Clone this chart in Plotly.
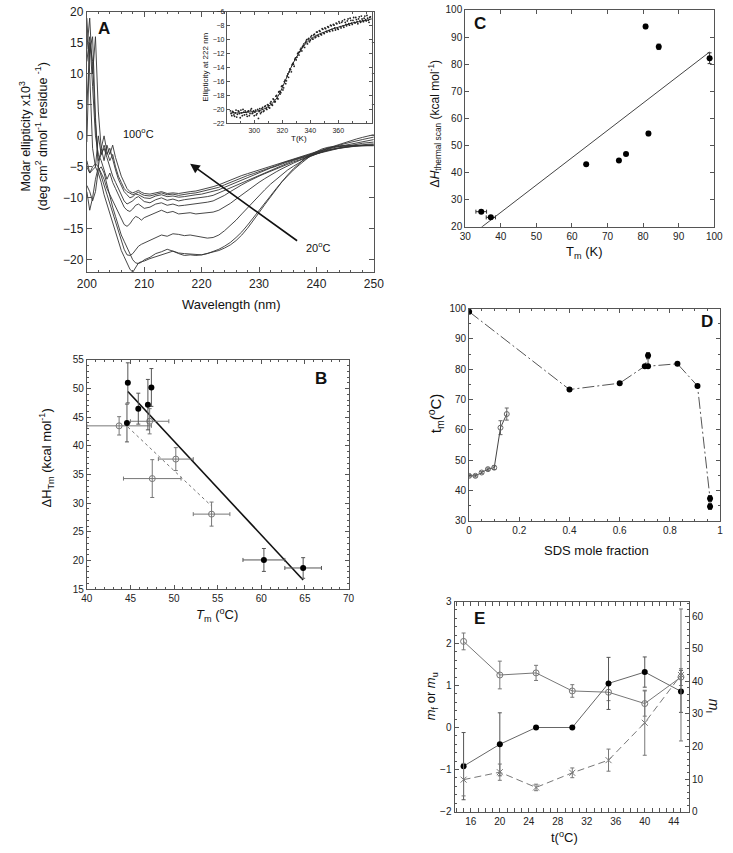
import plotly.graph_objects as go

W, H = 733, 853
FONT = "Liberation Sans, Arial, sans-serif"

# ---------------- Panel A data ----------------
WAVELENGTH = [200, 200.5, 201, 201.5, 202, 202.5, 203, 203.5, 204, 204.5, 205, 205.5, 206, 206.5,
              207, 207.5, 208, 208.5, 209, 209.5, 210,
              211, 212, 213, 214, 215, 216, 217, 218, 219, 220, 221, 222, 223, 224, 225, 226, 227,
              228, 229, 230, 231, 232, 233, 234, 235, 236, 237, 238, 239, 240, 241, 242, 243, 244,
              245, 246, 247, 248, 249, 250]
CD_20C = [-5, -6, -5.5, -5, -6, -7.5, -9.5, -11, -12.5, -14, -15.5, -17, -18.5, -19.5,
          -20.5, -21.5, -22, -21.2, -20.5, -20.3, -20.2,
          -19.8, -19.5, -19.2, -19.0, -18.6, -19.0, -19.3, -19.2, -19.3, -19.2, -19.0, -18.8, -18.5, -18.1,
          -17.6, -16.9, -16.0, -14.9, -13.7, -12.4, -11.1, -9.8, -8.6, -7.4, -6.3, -5.3, -4.5, -3.6, -3.0,
          -2.5, -2.1, -1.85, -1.7, -1.6, -1.55, -1.5, -1.5, -1.5, -1.5, -1.5]
CD_30C = [-8, -9, -10.5, -9, -5.5, -5, -6, -8, -10, -11.5, -13, -14.5, -16, -17,
          -18, -19, -20, -20.5, -20.6, -20.4, -20.0,
          -19.6, -19.0, -18.7, -18.3, -18.6, -18.9, -19.0, -19.1, -19.2, -19.2, -19.0, -18.7, -18.3, -17.8,
          -17.2, -16.4, -15.5, -14.4, -13.2, -12.0, -10.8, -9.6, -8.5, -7.4, -6.4, -5.5, -4.7, -3.9, -3.2,
          -2.7, -2.3, -2.0, -1.8, -1.7, -1.65, -1.6, -1.6, -1.6, -1.6, -1.6]
CD_40C = [-4, -6, -5, -4.5, -5, -6.5, -8, -9.5, -11, -12.5, -14, -15.5, -17, -18.3,
          -19.2, -19.3, -19, -18.3, -17.8, -17.5, -17.3,
          -16.8, -16.5, -16.0, -16.2, -15.8, -15.9, -16.1, -16.0, -16.2, -16.4, -16.5, -16.4, -16.0, -15.3,
          -14.5, -13.6, -12.6, -11.6, -10.6, -9.6, -8.7, -7.8, -7.0, -6.2, -5.5, -4.9, -4.3, -3.8, -3.3,
          -2.9, -2.6, -2.3, -2.1, -1.9, -1.8, -1.7, -1.65, -1.6, -1.55, -1.5]
CD_50C = [-9, -12, -10, -7, -5, -6, -7, -8.5, -9.5, -10.5, -11.5, -12.5, -13.5, -14.3,
          -14.6, -14.2, -13.5, -13.0, -13.2, -13.6, -13.2,
          -12.8, -12.5, -12.0, -12.4, -12.2, -12.6, -12.5, -12.4, -12.6, -12.5, -12.4, -12.3, -12.0, -11.5,
          -10.9, -10.2, -9.5, -8.8, -8.1, -7.5, -6.9, -6.3, -5.8, -5.3, -4.8, -4.4, -4.0, -3.6, -3.2,
          -2.9, -2.6, -2.35, -2.15, -2.0, -1.85, -1.75, -1.65, -1.55, -1.5, -1.45]
CD_60C = [12, 16, 8, 0, -3, -4, -5.5, -7, -6, -7.5, -8.5, -9.5, -10.5, -11.5,
          -12, -12.2, -11.8, -11.2, -11.0, -11.4, -11.7,
          -11.5, -11.0, -10.8, -11.2, -11.0, -11.3, -11.2, -11.1, -11.0, -10.9, -10.7, -10.5, -10.1, -9.6,
          -9.0, -8.4, -7.9, -7.4, -6.9, -6.5, -6.1, -5.7, -5.3, -4.9, -4.6, -4.2, -3.9, -3.5, -3.2,
          -2.9, -2.65, -2.4, -2.2, -2.0, -1.85, -1.7, -1.55, -1.45, -1.35, -1.3]
CD_70C = [-1, 15, 12, 2, -4, -3, -2, -3.5, -5, -6.5, -7.5, -8.5, -9.5, -10.5,
          -11, -10.8, -10.5, -10.0, -9.8, -10.2, -10.6,
          -10.8, -10.3, -10.0, -10.4, -10.2, -10.5, -10.3, -10.2, -10.1, -10.0, -9.8, -9.6, -9.2, -8.8,
          -8.4, -7.9, -7.5, -7.1, -6.7, -6.3, -5.9, -5.5, -5.1, -4.7, -4.4, -4.0, -3.7, -3.4, -3.1,
          -2.8, -2.55, -2.3, -2.1, -1.9, -1.7, -1.5, -1.35, -1.2, -1.1, -1.0]
CD_80C = [19, 10, -2, -5, 0, -3, -1.5, -3, -2, -4, -5.5, -7, -8, -9,
          -9.5, -10, -9.8, -9.4, -9.5, -9.8, -10.0,
          -10.1, -9.7, -9.5, -9.8, -9.7, -9.9, -9.8, -9.6, -9.5, -9.4, -9.2, -9.0, -8.7, -8.3,
          -7.9, -7.5, -7.1, -6.7, -6.4, -6.0, -5.6, -5.2, -4.9, -4.5, -4.2, -3.9, -3.6, -3.3, -3.0,
          -2.7, -2.4, -2.15, -1.9, -1.7, -1.5, -1.3, -1.1, -0.9, -0.75, -0.6]
CD_90C = [5, 14, 16, 3, -5, -2, 0, -2.5, -4, -3, -5, -6.5, -7.5, -8.5,
          -9, -9.3, -9.5, -9.3, -9.1, -9.4, -9.6,
          -9.7, -9.4, -9.2, -9.5, -9.4, -9.6, -9.4, -9.3, -9.2, -9.0, -8.8, -8.6, -8.3, -7.9,
          -7.5, -7.1, -6.8, -6.4, -6.1, -5.8, -5.4, -5.1, -4.8, -4.4, -4.1, -3.8, -3.5, -3.2, -2.9,
          -2.6, -2.3, -2.0, -1.75, -1.5, -1.25, -1.0, -0.8, -0.6, -0.4, -0.2]
CD_100C = [14, 19, 10, 16, 4, -2, -4, -1.5, -3, -1.5, -3.5, -5, -6.5, -7.5,
           -8.5, -9, -9.2, -9.0, -8.8, -9.1, -9.3,
           -9.4, -9.2, -9.0, -9.3, -9.2, -9.3, -9.1, -9.0, -8.9, -8.7, -8.5, -8.2, -7.9, -7.5,
           -7.1, -6.7, -6.4, -6.1, -5.8, -5.5, -5.2, -4.9, -4.6, -4.3, -4.0, -3.7, -3.4, -3.1, -2.8,
           -2.5, -2.2, -1.9, -1.6, -1.3, -1.0, -0.75, -0.5, -0.25, 0.0, 0.2]
CD_SPECTRA = [CD_20C, CD_30C, CD_40C, CD_50C, CD_60C, CD_70C, CD_80C, CD_90C, CD_100C]

# inset: ellipticity at 222 nm vs T(K)
INSET_T_A = list(range(283, 384))
INSET_E_A = [-20.2, -20.9, -20.4, -21.0, -20.1, -20.7, -20.3, -21.2, -20.5, -20.0, -20.8, -20.4, -21.0,
             -20.2, -20.6, -19.9, -20.5, -20.9, -20.1, -20.6, -21.3, -19.9, -20.4, -19.7, -20.2, -19.5,
             -20.0, -19.4, -19.8, -18.9, -19.4, -18.6, -18.9, -18.0, -18.5, -17.4, -17.6, -16.6, -16.9,
             -15.8, -15.9, -14.9, -14.6, -14.3, -13.6, -13.5, -12.8, -12.9, -12.0, -12.2, -11.4, -11.6,
             -10.8, -11.1, -10.2, -10.6, -9.8, -10.1, -9.4, -9.9, -9.2, -9.6, -8.9, -9.5, -8.8, -9.3,
             -8.5, -9.1, -8.4, -8.9, -8.2, -8.8, -8.0, -8.7, -7.9, -8.6, -7.7, -8.5, -7.6, -8.3, -7.3,
             -8.2, -7.5, -8.0, -7.0, -7.9, -7.2, -7.8, -6.8, -7.6, -7.1, -7.7, -6.7, -7.5, -7.0, -7.4,
             -6.6, -7.3, -6.9, -7.5, -6.7]
INSET_T_B = [t + 0.5 for t in range(283, 383)]
INSET_E_B = [-20.6, -20.3, -20.8, -20.5, -21.1, -20.2, -20.6, -20.1, -20.9, -20.4, -20.2, -20.7, -20.3,
             -20.9, -20.1, -20.6, -20.2, -20.4, -20.8, -20.0, -20.3, -20.6, -19.9, -20.3, -19.6, -19.9,
             -19.3, -19.7, -19.1, -19.3, -18.5, -18.9, -18.1, -18.4, -17.5, -17.8, -16.7, -17.2, -16.0,
             -16.3, -15.2, -15.4, -14.2, -14.6, -13.4, -13.8, -12.6, -12.5, -11.8, -11.7, -11.2, -11.0,
             -10.6, -10.4, -10.0, -9.9, -10.3, -9.6, -9.9, -9.3, -9.7, -8.9, -9.4, -8.7, -9.2, -8.4,
             -9.0, -8.3, -8.8, -8.1, -8.7, -7.9, -8.5, -7.8, -8.3, -7.6, -8.4, -7.4, -8.1, -7.5, -8.0,
             -7.1, -7.8, -7.3, -7.7, -6.9, -7.6, -7.2, -7.5, -6.8, -7.4, -7.0, -7.3, -6.6, -7.2, -6.9,
             -7.1, -6.5, -7.2, -6.8]
INSET_FIT_T = [283, 290, 295, 300, 305, 310, 314, 317, 320, 323, 326, 329, 332, 335, 338, 341, 345,
               350, 355, 360, 365, 370, 375, 380, 384]
INSET_FIT_E = [-20.5, -20.5, -20.4, -20.3, -20.1, -19.6, -18.9, -18.1, -16.9, -15.5, -14.1, -12.9,
               -11.9, -11.0, -10.3, -9.8, -9.3, -8.9, -8.5, -8.2, -7.9, -7.6, -7.4, -7.2, -7.0]

# ---------------- Panel B data ----------------
B_FILLED_TM = [44.7, 44.6, 45.9, 47.0, 47.4, 60.3, 64.8]
B_FILLED_DH = [51.0, 44.0, 46.5, 47.2, 50.2, 20.1, 18.7]
B_FILLED_TM_ERR = [0, 0, 0, 0, 0, 2.4, 2.1]
B_FILLED_DH_ERR = [3.5, 3.3, 2.7, 4.4, 3.3, 2.0, 1.8]
B_OPEN_TM = [43.7, 47.2, 50.2, 47.5, 54.3]
B_OPEN_DH = [43.5, 44.3, 37.7, 34.3, 28.1]
B_OPEN_TM_ERR = [3.7, 2.2, 2.0, 3.3, 2.1]
B_OPEN_DH_ERR = [1.6, 2.2, 2.0, 3.3, 2.1]
B_FIT_TM = [44.7, 64.8]
B_FIT_DH = [49.5, 16.6]
B_OPEN_FIT_TM = [44.7, 54.3]
B_OPEN_FIT_DH = [43.3, 29.5]

# ---------------- Panel C data ----------------
C_TM = [34.5, 37.2, 64.0, 73.2, 75.2, 80.7, 81.5, 84.4, 98.7]
C_DH = [25.6, 23.5, 43.1, 44.5, 46.9, 93.9, 54.4, 86.4, 82.2]
C_TM_ERR = [1.5, 1.3, 0, 0, 0, 0, 0, 0, 0]
C_DH_ERR = [0.5, 0.5, 0, 0, 0.4, 0.8, 0.8, 1.0, 2.0]
C_FIT_TM = [34.5, 98.7]
C_FIT_DH = [19.8, 84.5]

# ---------------- Panel D data ----------------
D_SDS_FILLED = [0, 0.40, 0.60, 0.70, 0.713, 0.713, 0.83, 0.91, 0.96, 0.96]
D_TM_FILLED = [99.0, 73.3, 75.4, 81.0, 84.5, 81.0, 81.8, 74.5, 37.3, 34.7]
D_TM_FILLED_ERR = [0, 0, 0, 0, 1.0, 0, 0, 0, 1.0, 1.0]
D_SDS_OPEN = [0, 0.025, 0.05, 0.075, 0.10, 0.125, 0.15]
D_TM_OPEN = [44.8, 44.8, 45.9, 47.0, 47.5, 60.7, 65.2]
D_TM_OPEN_ERR = [0.4, 0.4, 0.4, 0.4, 0.6, 2.3, 2.0]

# ---------------- Panel E data ----------------
E_T = [15, 20, 25, 30, 35, 40, 45]
E_OPEN = [2.05, 1.25, 1.30, 0.87, 0.84, 0.57, 1.20]
E_OPEN_ERR = [0.2, 0.33, 0.18, 0.15, 0.2, 0.3, 0.2]
E_FILLED = [-0.92, -0.40, 0.0, 0.0, 1.05, 1.32, 0.86]
E_FILLED_ERR = [0.8, 0.75, 0, 0, 0.62, 0.36, 0.5]
E_CROSS = [9.8, 12.1, 7.4, 11.9, 15.8, 27.3, 42.0]
E_CROSS_ERR = [5.0, 2.5, 1.0, 1.5, 3.4, 10.0, 20.3]


def dom_x(left, right):
    return [left / W, right / W]


def dom_y(top, bottom):
    return [1 - bottom / H, 1 - top / H]


AXC = "#555555"


def axis(domain, rng, tickvals=None, dtick=None, minor=None, size=10, anchor=None, mirror="allticks",
         ticklen=4, **kw):
    d = dict(domain=domain, range=rng, showgrid=False, zeroline=False, showline=True, linecolor=AXC,
             linewidth=1, mirror=mirror, ticks="inside", ticklen=ticklen, tickwidth=1, tickcolor=AXC,
             tickfont=dict(family=FONT, size=size, color="#222"))
    if tickvals is not None:
        d["tickvals"] = tickvals
    if dtick is not None:
        d["dtick"] = dtick
    if minor is not None:
        d["minor"] = dict(ticks="inside", ticklen=2, tickcolor=AXC, dtick=minor)
    if anchor:
        d["anchor"] = anchor
    d.update(kw)
    return d


fig = go.Figure()

# Panel A spectra
for spec in CD_SPECTRA:
    fig.add_trace(go.Scatter(x=WAVELENGTH, y=spec, mode="lines", xaxis="x", yaxis="y",
                             line=dict(color="#333", width=0.9), showlegend=False, hoverinfo="skip"))
# Inset
fig.add_trace(go.Scatter(x=INSET_T_A + INSET_T_B, y=INSET_E_A + INSET_E_B, mode="markers",
                         xaxis="x2", yaxis="y2", marker=dict(color="#222", size=1.8), showlegend=False))
fig.add_trace(go.Scatter(x=INSET_FIT_T, y=INSET_FIT_E, mode="lines", xaxis="x2", yaxis="y2",
                         line=dict(color="#222", width=1, shape="spline"), showlegend=False))

# Panel B
fig.add_trace(go.Scatter(x=B_FIT_TM, y=B_FIT_DH, mode="lines", xaxis="x3", yaxis="y3",
                         line=dict(color="#111", width=1.6), showlegend=False))
fig.add_trace(go.Scatter(x=B_OPEN_FIT_TM, y=B_OPEN_FIT_DH, mode="lines", xaxis="x3", yaxis="y3",
                         line=dict(color="#777", width=1, dash="dot"), showlegend=False))
fig.add_trace(go.Scatter(x=B_OPEN_TM, y=B_OPEN_DH, mode="markers", xaxis="x3", yaxis="y3",
                         marker=dict(symbol="circle-open", color="#777", size=6, line=dict(width=1)),
                         error_x=dict(type="data", array=B_OPEN_TM_ERR, color="#777", thickness=1, width=2),
                         error_y=dict(type="data", array=B_OPEN_DH_ERR, color="#777", thickness=1, width=2),
                         showlegend=False))
fig.add_trace(go.Scatter(x=B_FILLED_TM, y=B_FILLED_DH, mode="markers", xaxis="x3", yaxis="y3",
                         marker=dict(symbol="circle", color="#000", size=6),
                         error_x=dict(type="data", array=B_FILLED_TM_ERR, color="#555", thickness=1, width=2),
                         error_y=dict(type="data", array=B_FILLED_DH_ERR, color="#555", thickness=1, width=2),
                         showlegend=False))

# Panel C
fig.add_trace(go.Scatter(x=C_FIT_TM, y=C_FIT_DH, mode="lines", xaxis="x4", yaxis="y4",
                         line=dict(color="#444", width=1), showlegend=False))
fig.add_trace(go.Scatter(x=C_TM, y=C_DH, mode="markers", xaxis="x4", yaxis="y4",
                         marker=dict(symbol="circle", color="#000", size=6),
                         error_x=dict(type="data", array=C_TM_ERR, color="#333", thickness=1, width=2),
                         error_y=dict(type="data", array=C_DH_ERR, color="#333", thickness=1, width=2),
                         showlegend=False))

# Panel D
fig.add_trace(go.Scatter(x=D_SDS_FILLED, y=D_TM_FILLED, mode="lines+markers", xaxis="x5", yaxis="y5",
                         line=dict(color="#555", width=1, dash="12px,3px,2px,3px"),
                         marker=dict(symbol="circle", color="#000", size=6),
                         error_y=dict(type="data", array=D_TM_FILLED_ERR, color="#333", thickness=1, width=2),
                         showlegend=False))
fig.add_trace(go.Scatter(x=D_SDS_OPEN, y=D_TM_OPEN, mode="lines+markers", xaxis="x5", yaxis="y5",
                         line=dict(color="#444", width=1),
                         marker=dict(symbol="circle-open", color="#666", size=5, line=dict(width=1)),
                         error_y=dict(type="data", array=D_TM_OPEN_ERR, color="#666", thickness=1, width=2),
                         showlegend=False))

# Panel E
fig.add_trace(go.Scatter(x=E_T, y=E_CROSS, mode="lines+markers", xaxis="x6", yaxis="y7",
                         line=dict(color="#777", width=1, dash="7px,4px"),
                         marker=dict(symbol="x-thin-open", color="#777", size=6, line=dict(width=1, color="#777")),
                         error_y=dict(type="data", array=E_CROSS_ERR, color="#777", thickness=1, width=2),
                         showlegend=False))
fig.add_trace(go.Scatter(x=E_T, y=E_OPEN, mode="lines+markers", xaxis="x6", yaxis="y6",
                         line=dict(color="#777", width=1),
                         marker=dict(symbol="circle-open", color="#777", size=6, line=dict(width=1)),
                         error_y=dict(type="data", array=E_OPEN_ERR, color="#777", thickness=1, width=2),
                         showlegend=False))
fig.add_trace(go.Scatter(x=E_T, y=E_FILLED, mode="lines+markers", xaxis="x6", yaxis="y6",
                         line=dict(color="#666", width=1),
                         marker=dict(symbol="circle", color="#000", size=6),
                         error_y=dict(type="data", array=E_FILLED_ERR, color="#555", thickness=1, width=2),
                         showlegend=False))

layout = dict(
    width=W, height=H, margin=dict(l=0, r=0, t=0, b=0), paper_bgcolor="white", plot_bgcolor="white",
    font=dict(family=FONT, color="#222"), showlegend=False,
    # Panel A
    xaxis=axis(dom_x(79, 374), [200, 250], dtick=10, minor=2, size=12, anchor="y", ticklen=5),
    yaxis=axis(dom_y(6, 270), [-22, 20], tickvals=[-20, -15, -10, -5, 0, 5, 10, 15, 20], size=12,
               anchor="x", ticklen=5),
    # Inset
    xaxis2=axis(dom_x(223, 372), [280.5, 384], tickvals=[300, 320, 340, 360], minor=10, size=7, anchor="y2",
                ticklen=3),
    yaxis2=axis(dom_y(6, 119), [-22, -6], dtick=2, size=7, anchor="x2", ticklen=3),
    # Panel B
    xaxis3=axis(dom_x(79, 348), [40, 70], dtick=5, minor=1, size=10, anchor="y3"),
    yaxis3=axis(dom_y(359, 591.5), [15, 55], dtick=5, minor=1, size=10, anchor="x3"),
    # Panel C
    xaxis4=axis(dom_x(468, 724), [30, 100], dtick=10, size=10, anchor="y4"),
    yaxis4=axis(dom_y(4, 224), [20, 100], dtick=10, size=10, anchor="x4"),
    # Panel D
    xaxis5=axis(dom_x(472, 730), [0, 1], tickvals=[0, 0.2, 0.4, 0.6, 0.8, 1],
                ticktext=["0", "0.2", "0.4", "0.6", "0.8", "1"], minor=0.05, size=10, anchor="y5"),
    yaxis5=axis(dom_y(307, 522), [30, 100], dtick=10, minor=5, size=10, anchor="x5"),
    # Panel E
    xaxis6=axis(dom_x(457, 698), [13.75, 46.1], tickvals=[16, 20, 24, 28, 32, 36, 40, 44], minor=1,
                size=10, anchor="y6"),
    yaxis6=axis(dom_y(604, 817), [-2, 3], dtick=1, minor=0.2, size=10, anchor="x6", mirror=False),
    yaxis7=axis(dom_y(604, 817), [0, 64.6], dtick=10, minor=2, size=10, anchor="x6", mirror=False,
                overlaying="y6", side="right"),
)
fig.update_layout(**layout)


def px_ann(text, x, y, size=12, angle=0, bold=False, **kw):
    if bold:
        text = "<b>" + text + "</b>"
    fig.add_annotation(text=text, x=x / W, y=1 - y / H, xref="paper", yref="paper", showarrow=False,
                       textangle=angle, font=dict(family=FONT, size=size, color="#111"),
                       xanchor="center", yanchor="middle", **kw)


# Panel A labels
px_ann("A", 97, 23, size=17, bold=True)
px_ann("100<sup>o</sup>C", 132, 129, size=11)
px_ann("20<sup>o</sup>C", 317, 244, size=11)
fig.add_annotation(x=218, y=-4.5, ax=236.9, ay=-17.1, xref="x", yref="y", axref="x", ayref="y",
                   showarrow=True, arrowhead=2, arrowsize=1.2, arrowwidth=1.6, arrowcolor="#111", text="")
px_ann("Molar ellipticity x10<sup>3</sup><br>(deg cm<sup>2</sup> dmol<sup>-1</sup> residue <sup>-1</sup>)",
       24, 132, size=12.5, angle=-90)
px_ann("Wavelength (nm)", 228, 303, size=13)
px_ann("Ellipticity at 222 nm", 201, 62, size=8, angle=-90)
px_ann("T(K)", 297, 134, size=8)

# Panel B labels
px_ann("B", 320, 378, size=17, bold=True)
px_ann("ΔH<sub>Tm</sub> (kcal mol<sup>-1</sup>)", 37, 458, size=13, angle=-90)
px_ann("<i>T</i><sub>m</sub> (<sup>o</sup>C)", 213, 618, size=13)

# Panel C labels
px_ann("C", 483, 18, size=17, bold=True)
px_ann("Δ<i>H</i><sub>thermal scan</sub> (kcal mol<sup>-1</sup>)", 437, 120, size=12, angle=-90)
px_ann("T<sub>m</sub> (K)", 590, 250, size=13)

# Panel D labels
px_ann("D", 717, 320, size=17, bold=True)
px_ann("t<sub>m</sub>(<sup>o</sup>C)", 437, 413, size=15, angle=-90)
px_ann("SDS mole fraction", 603, 552, size=13)

# Panel E labels
px_ann("E", 483, 621, size=17, bold=True)
px_ann("<i>m</i><sub>f</sub> or <i>m</i><sub>u</sub>", 433, 700, size=13, angle=-90)
px_ann("<i>m</i><sub>I</sub>", 723, 710, size=14, angle=90)
px_ann("t(<sup>o</sup>C)", 570, 843, size=13)

fig.write_html("out.html", config={"displayModeBar": False},
               post_script="document.body.style.margin='0';")
